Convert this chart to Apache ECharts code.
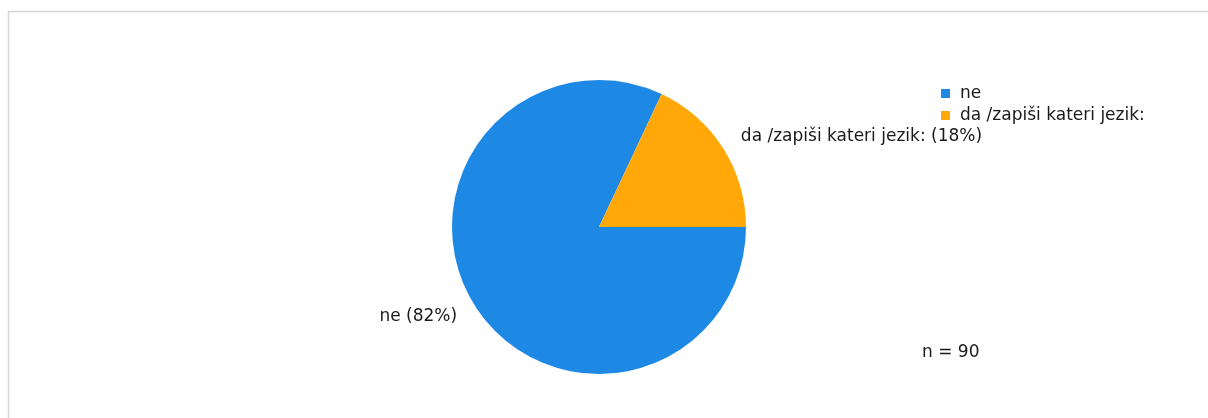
<!DOCTYPE html>
<html>
<head>
<meta charset="utf-8">
<script src="https://cdn.jsdelivr.net/npm/echarts@6/dist/echarts.min.js"></script>
<style>
  html, body { margin: 0; padding: 0; background: #fff; }
  #main { width: 1208px; height: 418px; }
</style>
</head>
<body>
<div id="main"></div>
<script>
// odgovori
var categories = ["ne", "da /zapiši kateri jezik:"];
var percents = [82, 18];
var colors = ["#1e88e5", "#ffa808"];
var totalN = 90;

var FONT = "DejaVu Sans, Verdana, sans-serif";
var myChart = echarts.init(document.getElementById("main"));

var pieData = categories.map(function (name, i) {
  return { name: name, value: percents[i], itemStyle: { color: colors[i] } };
});

var option = {
  animation: false,
  textStyle: { fontFamily: FONT },
  graphic: [
    {
      type: "rect",
      shape: { x: 8.5, y: 11.5, width: 1300, height: 500 },
      style: { fill: "none", stroke: "#d6d6d6", lineWidth: 1.5 },
      silent: true
    },
    {
      type: "text",
      left: 922,
      top: 344,
      style: { text: "n = " + totalN, fill: "#1a1a1a", font: "17px " + FONT }
    }
  ],
  legend: {
    orient: "vertical",
    left: 936,
    top: 80,
    itemWidth: 9,
    itemHeight: 9,
    itemGap: 5,
    icon: "rect",
    textStyle: { color: "#1a1a1a", fontSize: 17, fontFamily: FONT, padding: [0, 0, 0, 5] },
    data: categories
  },
  series: [
    {
      type: "pie",
      center: [599, 227],
      radius: 147,
      startAngle: 0,
      clockwise: true,
      data: pieData,
      label: {
        show: true,
        position: "outside",
        formatter: "{b} ({c}%)",
        color: "#1a1a1a",
        fontSize: 17,
        fontFamily: FONT,
        distanceToLabelLine: 0
      },
      labelLine: { show: false, length: 21, length2: 0 },
      emphasis: { disabled: true }
    }
  ]
};

myChart.setOption(option);
</script>
</body>
</html>
